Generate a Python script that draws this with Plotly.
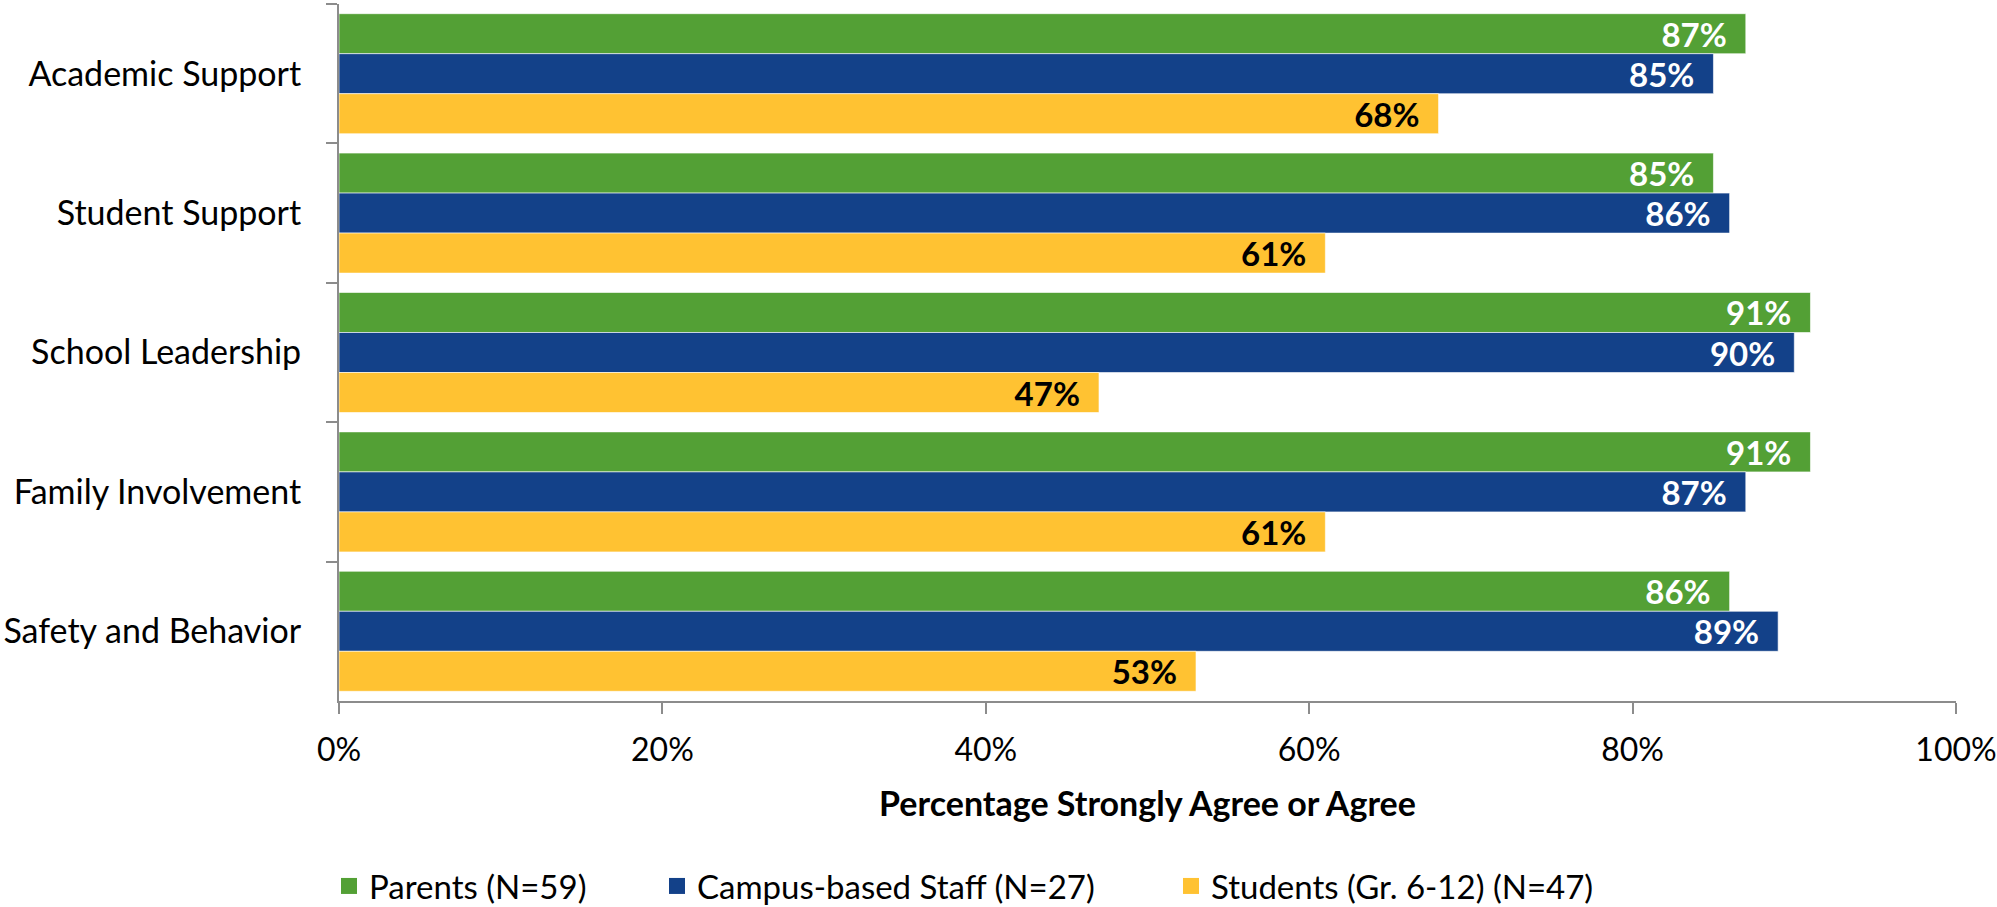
import plotly.graph_objects as go

categories = ["Academic Support", "Student Support", "School Leadership",
              "Family Involvement", "Safety and Behavior"]
parents = [0.87, 0.85, 0.91, 0.91, 0.86]
staff = [0.85, 0.86, 0.90, 0.87, 0.89]
students = [0.68, 0.61, 0.47, 0.61, 0.53]
series_names = ["Parents (N=59)", "Campus-based Staff (N=27)", "Students (Gr. 6-12) (N=47)"]
x_ticks = [0, 0.2, 0.4, 0.6, 0.8, 1.0]
x_tick_labels = ["0%", "20%", "40%", "60%", "80%", "100%"]

colors = ["#53A035", "#134189", "#FFC232"]
label_colors = ["white", "white", "black"]
FONT = "Lato"
FS = 34
W, H = 1997, 907

fig = go.Figure()
for name, vals, col, lc in zip(series_names, [parents, staff, students], colors, label_colors):
    fig.add_trace(go.Bar(
        y=categories, x=vals, name=name, orientation="h",
        marker=dict(color=col, line=dict(color="rgba(255,255,255,0.6)", width=1)),
        text=[f"{round(v*100)}%\u00a0\u00a0" for v in vals],
        textposition="inside", insidetextanchor="end", textangle=0,
        constraintext="none",
        textfont=dict(family=FONT, size=33, color=lc, weight="bold"),
        showlegend=False, hoverinfo="skip",
    ))

# legend entries (one legend per entry, to place them like the original)
legend_x = [329, 657, 1171]
for i, (name, col) in enumerate(zip(series_names, colors)):
    lg = "legend" if i == 0 else f"legend{i+1}"
    fig.add_trace(go.Scatter(
        x=[None], y=[None], mode="markers", name=name,
        marker=dict(symbol="square", size=22, color=col),
        legend=lg, showlegend=True,
    ))

legend_common = dict(orientation="h", xref="container", yref="container",
                     yanchor="middle", xanchor="left", bgcolor="rgba(0,0,0,0)",
                     font=dict(family=FONT, size=33, color="black"))
layout_legends = {}
for i, lx in enumerate(legend_x):
    key = "legend" if i == 0 else f"legend{i+1}"
    layout_legends[key] = dict(legend_common, x=lx / W, y=1 - 886 / H)

fig.update_layout(
    width=W, height=H,
    margin=dict(l=339, r=41, t=4, b=206, autoexpand=False),
    paper_bgcolor="white", plot_bgcolor="white",
    barmode="group", bargap=0.139, bargroupgap=0,
    font=dict(family=FONT, size=FS, color="black"),
    **layout_legends,
)
fig.update_xaxes(
    range=[0, 1], tickvals=x_ticks, ticktext=x_tick_labels,
    showgrid=False, zeroline=False, automargin=False,
    showline=True, linecolor="#8C8C8C", linewidth=2,
    ticks="outside", ticklen=11, tickcolor="#8C8C8C", tickwidth=2,
    tickfont=dict(family=FONT, size=32, color="black"),
    ticklabelstandoff=9, ticklabeloverflow="allow",
    title=dict(text="<b>Percentage Strongly Agree or Agree</b>",
               font=dict(family=FONT, size=FS, color="black"), standoff=25),
)
fig.update_yaxes(
    autorange="reversed", type="category",
    showgrid=False, zeroline=False, automargin=False,
    showline=True, linecolor="#8C8C8C", linewidth=2,
    ticks="outside", ticklen=11, tickcolor="#8C8C8C", tickwidth=2,
    tickson="boundaries",
    tickfont=dict(family=FONT, size=FS, color="black"),
    ticklabelstandoff=29,
)

fig.write_html(
    "out.html",
    config={"displayModeBar": False},
    post_script="document.body.style.margin='0';document.body.style.overflow='hidden';",
)
